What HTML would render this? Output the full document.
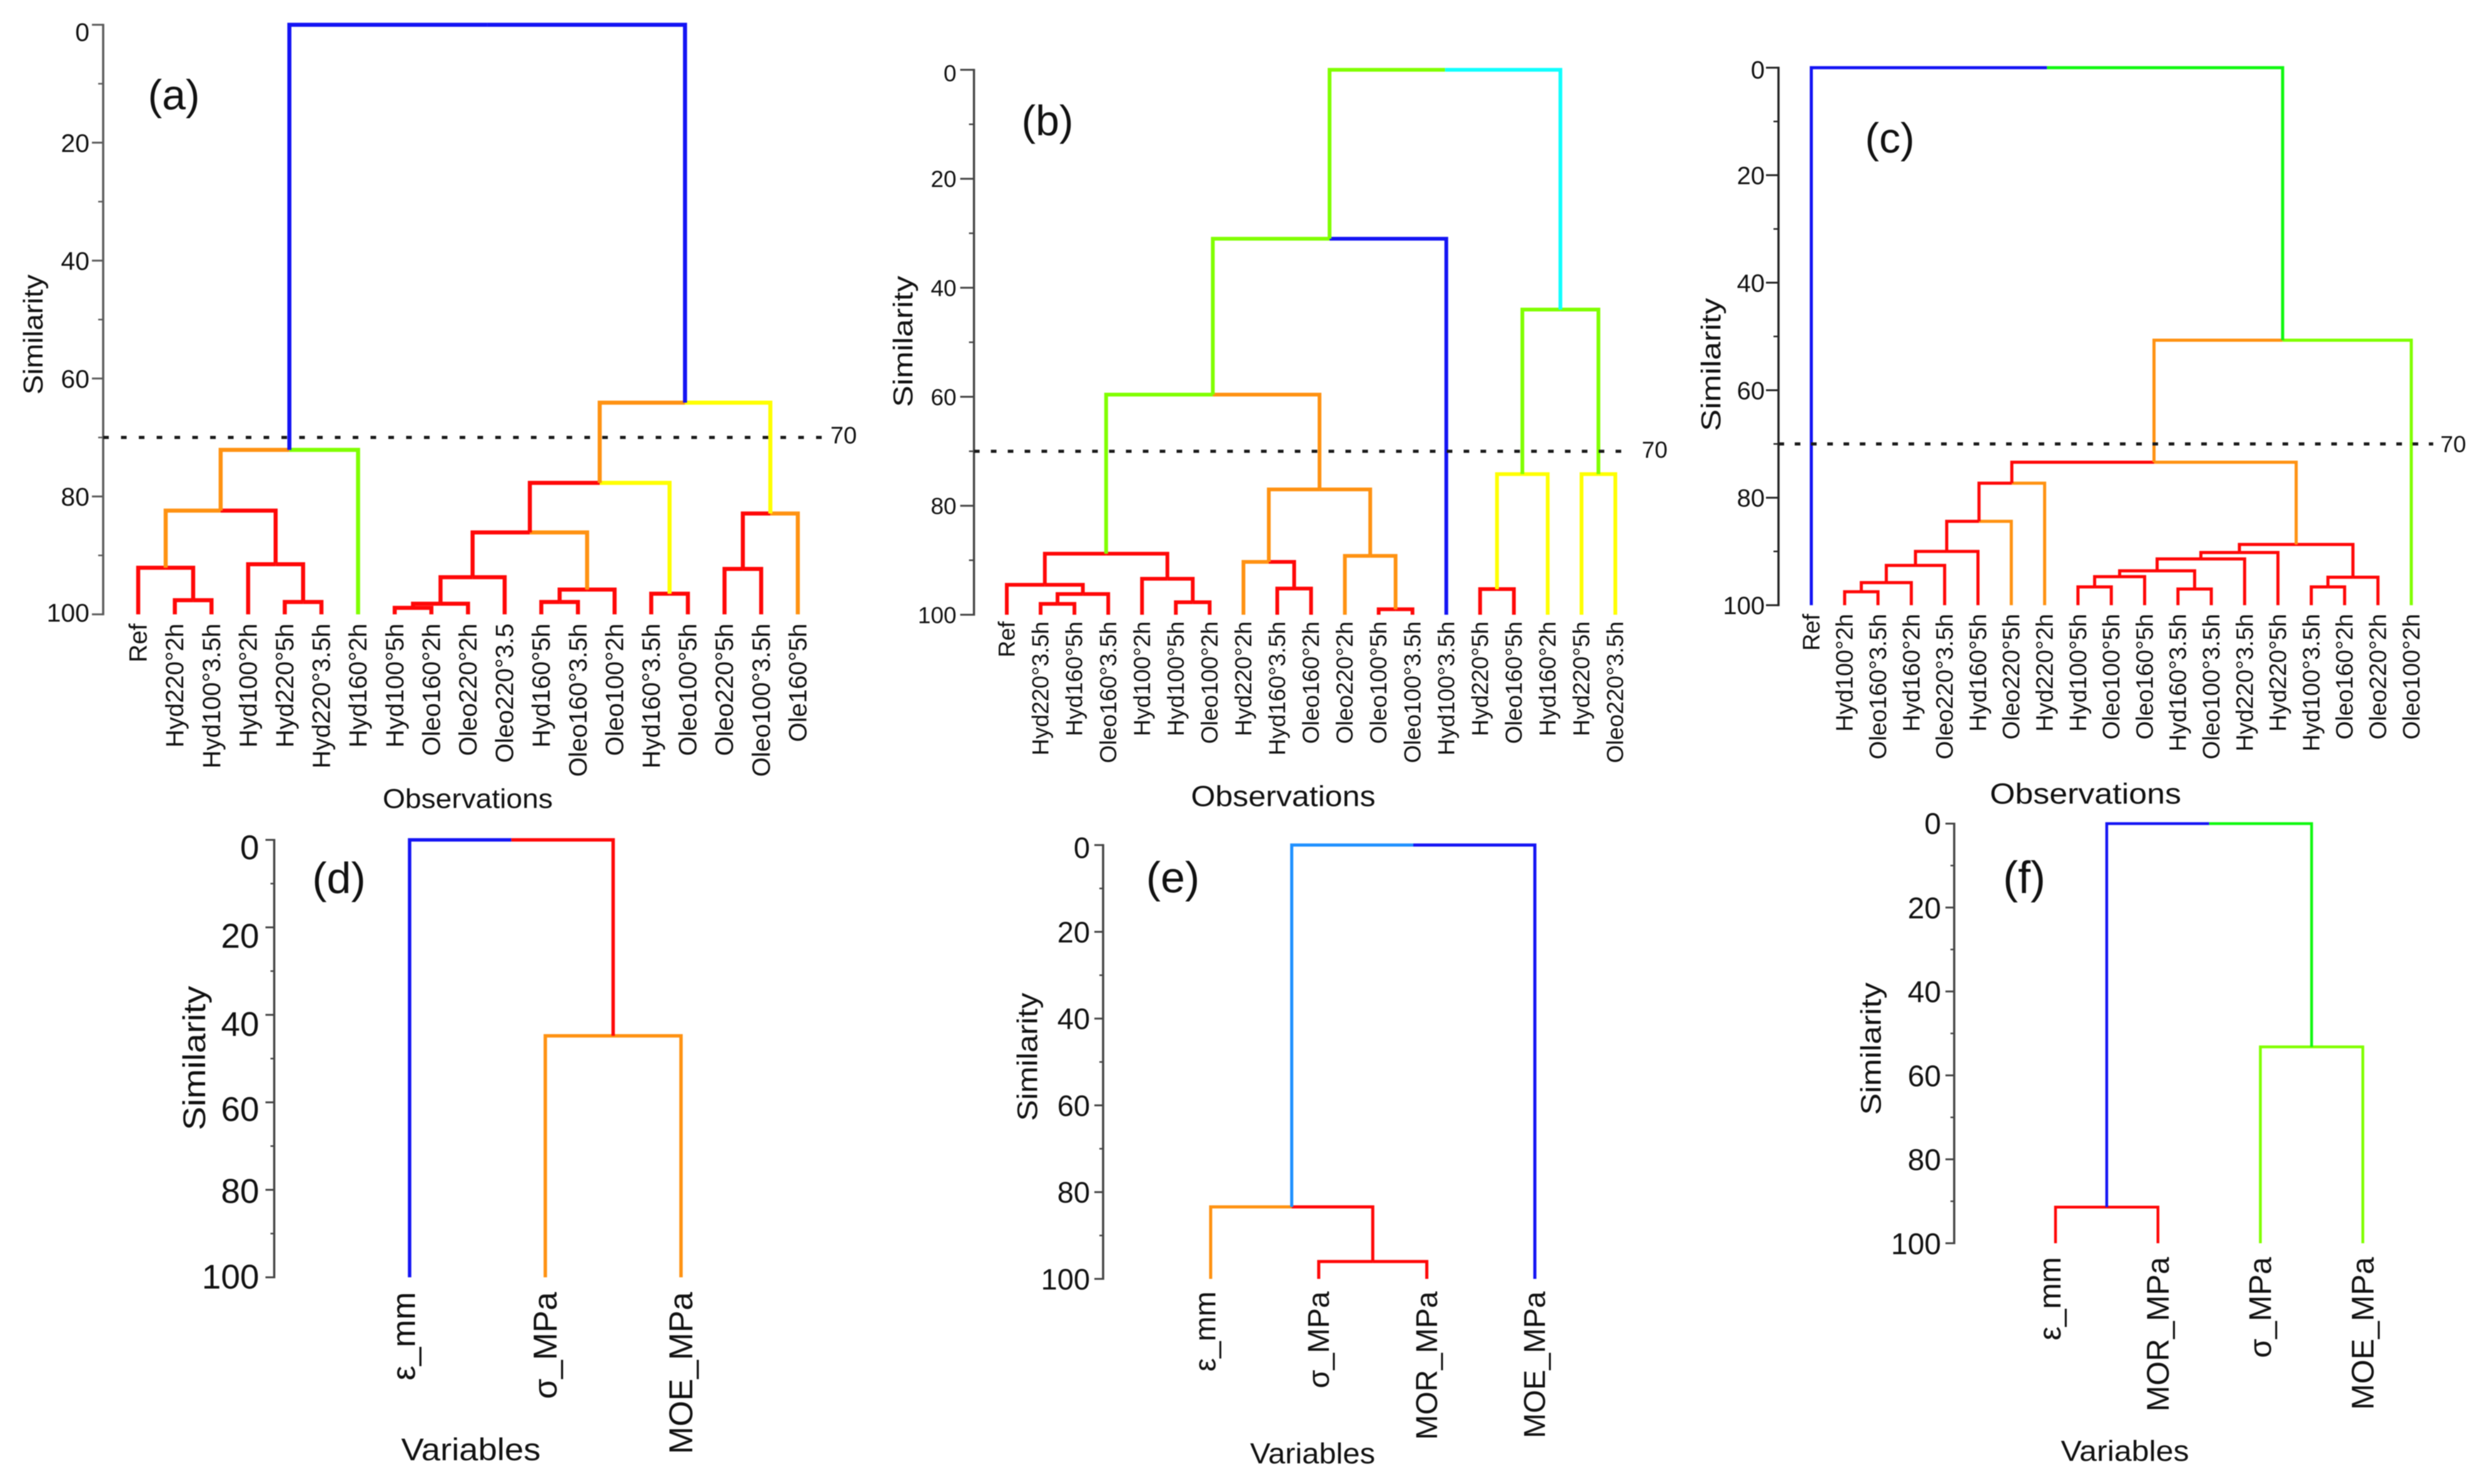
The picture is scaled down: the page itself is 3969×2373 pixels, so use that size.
<!DOCTYPE html>
<html lang="en">
<head>
<meta charset="utf-8">
<title>Dendrograms of similarity</title>
<style>
html,body{margin:0;padding:0;background:#fff;width:3969px;height:2373px;overflow:hidden}
svg{display:block;filter:blur(0.8px)}
text{font-family:"Liberation Sans",sans-serif;fill:#111}
</style>
</head>
<body>
<svg id="chart" xmlns="http://www.w3.org/2000/svg" width="3969" height="2373" viewBox="0 0 3969 2373"></svg>
<script>
/* ---------- shared axis values ---------- */
const majorTickValues = [0, 20, 40, 60, 80, 100];
const minorTickValues = [10, 30, 50, 70, 90];
const cutLevelValue = 70;

/* ---------- colour names ---------- */
const R = '#ff0808', O = '#ff9212', Y = '#ffff00', G = '#80ff00', B = '#1414f4', C = '#10ffff', L = '#10f810', D = '#1e90ff';

/* ---------- panel (a) ---------- */
const aLeaves = ['Ref','Hyd220°2h','Hyd100°3.5h','Hyd100°2h','Hyd220°5h','Hyd220°3.5h','Hyd160°2h','Hyd100°5h','Oleo160°2h','Oleo220°2h','Oleo220°3.5','Hyd160°5h','Oleo160°3.5h','Oleo100°2h','Hyd160°3.5h','Oleo100°5h','Oleo220°5h','Oleo100°3.5h','Ole160°5h'];
const aPairs = [[1,2],[0,19],[4,5],[3,21],[20,22],[23,6],[7,8],[25,9],[26,10],[11,12],[28,13],[27,29],[14,15],[30,31],[16,17],[33,18],[32,34],[24,35]];
const aHeights = [97.6,92.1,97.9,91.5,82.4,72.1,98.9,98.2,93.7,97.9,95.8,86.1,96.5,77.7,92.3,82.9,64.1,0];
const aColors = [[R,R],[R,R],[R,R],[R,R],[O,R],[O,G],[R,R],[R,R],[R,R],[R,R],[R,R],[R,O],[R,R],[R,Y],[R,R],[R,O],[O,Y],[B,B]];

/* ---------- panel (b) ---------- */
const bLeaves = ['Ref','Hyd220°3.5h','Hyd160°5h','Oleo160°3.5h','Hyd100°2h','Hyd100°5h','Oleo100°2h','Hyd220°2h','Hyd160°3.5h','Oleo160°2h','Oleo220°2h','Oleo100°5h','Oleo100°3.5h','Hyd100°3.5h','Hyd220°5h','Oleo160°5h','Hyd160°2h','Hyd220°5h','Oleo220°3.5h'];
const bPairs = [[1,2],[19,3],[0,20],[5,6],[4,22],[21,23],[8,9],[7,25],[11,12],[10,27],[26,28],[24,29],[30,13],[14,15],[32,16],[17,18],[33,34],[31,35]];
const bHeights = [98.0,96.2,94.5,97.7,93.4,88.8,95.2,90.3,99.0,89.2,77.0,59.6,31.0,95.3,74.2,74.2,44.0,0];
const bColors = [[R,R],[R,R],[R,R],[R,R],[R,R],[R,R],[R,R],[O,R],[R,R],[O,O],[O,O],[G,O],[G,B],[R,R],[Y,Y],[Y,Y],[G,G],[G,C]];

/* ---------- panel (c) ---------- */
const cLeaves = ['Ref','Hyd100°2h','Oleo160°3.5h','Hyd160°2h','Oleo220°3.5h','Hyd160°5h','Oleo220°5h','Hyd220°2h','Hyd100°5h','Oleo100°5h','Oleo160°5h','Hyd160°3.5h','Oleo100°3.5h','Hyd220°3.5h','Hyd220°5h','Hyd100°3.5h','Oleo160°2h','Oleo220°2h','Oleo100°2h'];
const cPairs = [[1,2],[19,3],[20,4],[21,5],[22,6],[23,7],[8,9],[25,10],[11,12],[26,27],[28,13],[29,14],[15,16],[31,17],[30,32],[24,33],[34,18],[0,35]];
const cHeights = [97.5,95.8,92.6,90.0,84.4,77.3,96.6,94.7,97.0,93.6,91.4,90.2,96.6,94.8,88.7,73.4,50.7,0];
const cColors = [[R,R],[R,R],[R,R],[R,R],[R,O],[R,O],[R,R],[R,R],[R,R],[R,R],[R,R],[R,R],[R,R],[R,R],[R,R],[R,O],[O,G],[B,L]];

/* ---------- panel (d) ---------- */
const dLeaves = ['ε_mm','σ_MPa','MOE_MPa'];
const dPairs = [[1,2],[0,3]];
const dHeights = [44.8,0];
const dColors = [[O,O],[B,R]];

/* ---------- panel (e) ---------- */
const eLeaves = ['ε_mm','σ_MPa','MOR_MPa','MOE_MPa'];
const ePairs = [[1,2],[0,4],[5,3]];
const eHeights = [96.0,83.4,0];
const eColors = [[R,R],[O,R],[D,B]];

/* ---------- panel (f) ---------- */
const fLeaves = ['ε_mm','MOR_MPa','σ_MPa','MOE_MPa'];
const fPairs = [[0,1],[2,3],[4,5]];
const fHeights = [91.4,53.2,0];
const fColors = [[R,R],[G,G],[B,L]];

/* ---------- layout of each panel (geometry only) ---------- */
const panels = [
 {id:'a',leaves:aLeaves,pairs:aPairs,heights:aHeights,colors:aColors,axisX:165,y0:39.6,y100:982.4,xFirst:221,xStep:58.6,lw:6.5,axisColor:'#5a5a5a',tickFs:41,tickGap:22,tickShift:[11,0,0,0,0,-3],majorLen:18,minorLen:8,
  leafFs:40,leafTop:997,simX:55,simY:535,simLen:192,simFs:44,tag:'(a)',tagX:278,tagY:175,tagFs:68,xTitle:'Observations',xtX:748,xtY:1292,xtLen:272,xtFs:44,cutEnd:1317,cutGap:28.5,cutLabelX:1349,cutLabelDy:-4,cutFs:38},
 {id:'b',leaves:bLeaves,pairs:bPairs,heights:bHeights,colors:bColors,axisX:1557.5,y0:111.6,y100:983,xFirst:1610,xStep:54.06,lw:6,axisColor:'#444',tickFs:37,tickGap:28,tickShift:[5,0,0,0,0,0],majorLen:22,minorLen:8,
  leafFs:37,leafTop:993.6,simX:1446,simY:546,simLen:210,simFs:44,tag:'(b)',tagX:1675,tagY:216,tagFs:68,xTitle:'Observations',xtX:2052,xtY:1289,xtLen:295,xtFs:46,cutEnd:2594,cutGap:27,cutLabelX:2646,cutLabelDy:-3,cutFs:37},
 {id:'c',leaves:cLeaves,pairs:cPairs,heights:cHeights,colors:cColors,axisX:2844,y0:108.3,y100:967.7,xFirst:2896.5,xStep:53.3,lw:5,axisColor:'#222',tickFs:40,tickGap:22,tickShift:[3,0,0,0,0,0],majorLen:20,minorLen:8,
  leafFs:38,leafTop:981.5,simX:2738,simY:583,simLen:213,simFs:44,tag:'(c)',tagX:3022,tagY:244,tagFs:68,xTitle:'Observations',xtX:3335,xtY:1285,xtLen:306,xtFs:46,cutEnd:3891,cutGap:26,cutLabelX:3923,cutLabelDy:0,cutFs:37},
 {id:'d',leaves:dLeaves,pairs:dPairs,heights:dHeights,colors:dColors,axisX:438.5,y0:1343,y100:2042.5,xFirst:655,xStep:217,lw:5.5,axisColor:'#444',tickFs:55,tickGap:24,tickShift:[11,13,14,10,1,-2],majorLen:14,minorLen:6,
  leafFs:53,leafTop:2066,simX:313,simY:1692,simLen:231,simFs:50,tag:'(d)',tagX:542,tagY:1428,tagFs:70,xTitle:'Variables',xtX:753,xtY:2335,xtLen:223,xtFs:50},
 {id:'e',leaves:eLeaves,pairs:ePairs,heights:eHeights,colors:eColors,axisX:1764,y0:1351.3,y100:2045,xFirst:1936,xStep:172.8,lw:5,axisColor:'#444',tickFs:47,tickGap:21,tickShift:[4,0,0,0,0,0],majorLen:14,minorLen:6,
  leafFs:48,leafTop:2065,simX:1645,simY:1690,simLen:205,simFs:45,tag:'(e)',tagX:1875.5,tagY:1427,tagFs:70,xTitle:'Variables',xtX:2099,xtY:2340,xtLen:200,xtFs:46},
 {id:'f',leaves:fLeaves,pairs:fPairs,heights:fHeights,colors:fColors,axisX:3125,y0:1317,y100:1988,xFirst:3287,xStep:163.8,lw:4.5,axisColor:'#444',tickFs:48,tickGap:21,tickShift:[-1,0,0,0,0,0],majorLen:14,minorLen:6,
  leafFs:50,leafTop:2010,simX:2994,simY:1677,simLen:212,simFs:45,tag:'(f)',tagX:3237,tagY:1428,tagFs:72,xTitle:'Variables',xtX:3398,xtY:2336,xtLen:205,xtFs:46}
];

const svg = document.getElementById('chart');
const NS = 'http://www.w3.org/2000/svg';

function shape(parent, type, attrs, name) {
  const el = document.createElementNS(NS, type);
  for (const k in attrs) el.setAttribute(k, attrs[k]);
  
  
  parent.appendChild(el);
  return el;
}
function label(parent, str, attrs, name) {
  const el = shape(parent, 'text', attrs, name);
  el.textContent = str;
  return el;
}

panels.forEach(function (p) {
  const g = document.createElementNS(NS, 'g');
  
  
  svg.appendChild(g);

  /* axis functions */
  const yScale = function (v) { return p.y0 + (p.y100 - p.y0) * v / 100; };
  const xScale = function (i) { return p.xFirst + p.xStep * i; };

  /* y axis */
  shape(g, 'line', {x1:p.axisX, x2:p.axisX, y1:yScale(0)-1.5, y2:yScale(100)+1.5, stroke:p.axisColor, 'stroke-width':3.5}, 'y-axis-line-' + p.id);
  majorTickValues.forEach(function (v, i) {
    const y = yScale(v);
    shape(g, 'line', {x1:p.axisX - p.majorLen, x2:p.axisX, y1:y, y2:y, stroke:p.axisColor, 'stroke-width':3}, 'y-major-tick-' + v);
    label(g, String(v), {x:p.axisX - p.tickGap, y:y + p.tickFs * 0.36 + p.tickShift[i], 'text-anchor':'end', 'font-size':p.tickFs}, 'y-tick-label-' + v);
  });
  minorTickValues.forEach(function (v) {
    const y = yScale(v);
    shape(g, 'line', {x1:p.axisX - p.minorLen, x2:p.axisX, y1:y, y2:y, stroke:p.axisColor, 'stroke-width':2.5}, 'y-minor-tick-' + v);
  });

  /* dendrogram links, computed from the merges */
  const n = p.leaves.length;
  const nodeX = [];
  const nodeH = [];
  p.leaves.forEach(function (_, i) { nodeX[i] = xScale(i); nodeH[i] = 100; });
  p.pairs.forEach(function (pair, m) {
    const id = n + m;
    const l = pair[0], r = pair[1];
    nodeX[id] = (nodeX[l] + nodeX[r]) / 2;
    nodeH[id] = p.heights[m];
    const ty = yScale(nodeH[id]);
    shape(g, 'path', {d:'M' + nodeX[id] + ' ' + ty + 'H' + nodeX[l] + 'V' + yScale(nodeH[l]), fill:'none', stroke:p.colors[m][0], 'stroke-width':p.lw, 'stroke-linejoin':'miter'}, 'link-left-' + id);
    shape(g, 'path', {d:'M' + nodeX[id] + ' ' + ty + 'H' + nodeX[r] + 'V' + yScale(nodeH[r]), fill:'none', stroke:p.colors[m][1], 'stroke-width':p.lw, 'stroke-linejoin':'miter'}, 'link-right-' + id);
  });

  /* leaf labels */
  p.leaves.forEach(function (txt, i) {
    const x = xScale(i) + p.leafFs * (txt.charAt(0) === 'ε' ? 0.16 : 0.34);
    label(g, txt, {x:x, y:p.leafTop, 'text-anchor':'end', 'font-size':p.leafFs, transform:'rotate(-90 ' + x + ' ' + p.leafTop + ')'}, 'leaf-label-' + txt.toLowerCase());
  });

  /* titles */
  label(g, 'Similarity', {x:p.simX + p.simFs * 0.3, y:p.simY, 'text-anchor':'middle', 'font-size':p.simFs, textLength:p.simLen, lengthAdjust:'spacingAndGlyphs', transform:'rotate(-90 ' + (p.simX + p.simFs * 0.3) + ' ' + p.simY + ')'}, 'y-axis-title');
  label(g, p.xTitle, {x:p.xtX, y:p.xtY, 'text-anchor':'middle', 'font-size':p.xtFs, textLength:p.xtLen, lengthAdjust:'spacingAndGlyphs'}, 'x-axis-title');
  label(g, p.tag, {x:p.tagX, y:p.tagY, 'text-anchor':'middle', 'font-size':p.tagFs}, 'panel-tag');

  /* dotted 70 % cut line */
  if (p.cutEnd) {
    const yc = yScale(cutLevelValue);
    shape(g, 'line', {x1:p.axisX, x2:p.cutEnd, y1:yc, y2:yc, stroke:'#1a1a1a', 'stroke-width':5, 'stroke-dasharray':'9 ' + (p.cutGap - 9)}, 'cut-line');
    label(g, String(cutLevelValue), {x:p.cutLabelX, y:yc + p.cutFs * 0.36 + p.cutLabelDy, 'text-anchor':'middle', 'font-size':p.cutFs}, 'cut-line-label');
  }
});
</script>
</body>
</html>
